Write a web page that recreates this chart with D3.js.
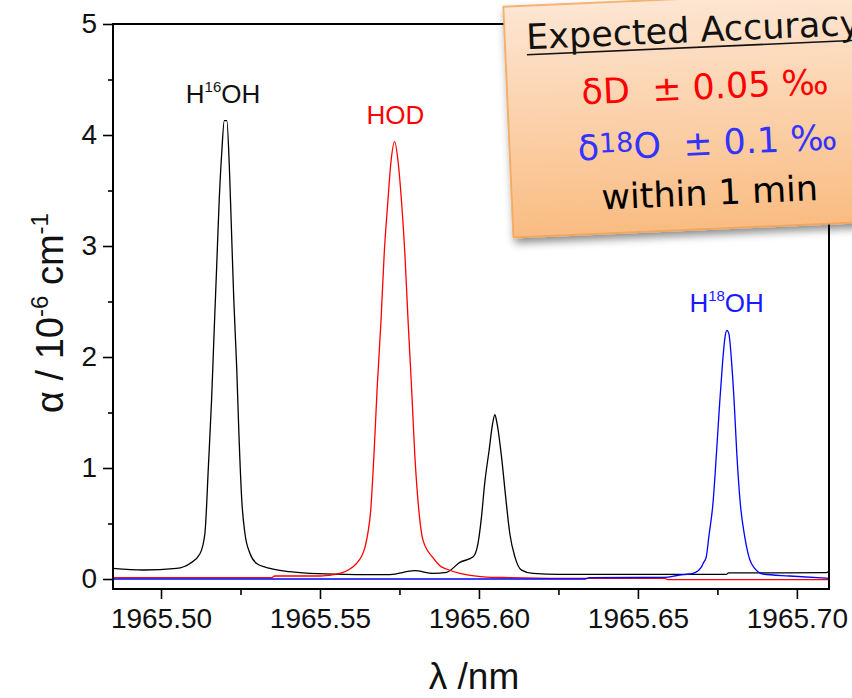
<!DOCTYPE html>
<html>
<head>
<meta charset="utf-8">
<script src="https://cdn.jsdelivr.net/npm/d3@7"></script>
<style>
body{margin:0;background:#fff;}
svg{display:block;}
</style>
</head>
<body>
<svg id="chart"></svg>
<script>
//total water spectrum (black) - wavelength in nm and absorption
var totalNm = [1965.4849, 1965.4944, 1965.5049, 1965.5091, 1965.5123, 1965.5138, 1965.5149, 1965.5159, 1965.5167, 1965.5175,
    1965.5183, 1965.5191, 1965.5199, 1965.5207, 1965.5215, 1965.5222, 1965.5229, 1965.5238, 1965.5245, 1965.5254,
    1965.5264, 1965.5280, 1965.5301, 1965.5343, 1965.5405, 1965.5468, 1965.5615, 1965.5720, 1965.5798, 1965.5856,
    1965.5898, 1965.5940, 1965.5982, 1965.5997, 1965.6008, 1965.6018, 1965.6032, 1965.6043, 1965.6050, 1965.6057,
    1965.6071, 1965.6084, 1965.6097, 1965.6113, 1965.6134, 1965.6170, 1965.6254, 1965.6380, 1965.6778, 1965.6785,
    1965.7092, 1965.7101];
var totalAlpha = [0.096, 0.081, 0.096, 0.14, 0.23, 0.41, 1.01, 1.61, 2.22, 2.81,
    3.41, 3.84, 4.13, 4.13, 3.71, 3.11, 2.51, 1.91, 1.31, 0.71,
    0.41, 0.23, 0.14, 0.096, 0.066, 0.05, 0.04, 0.04, 0.075, 0.05,
    0.06, 0.15, 0.2, 0.32, 0.56, 0.86, 1.16, 1.40, 1.48, 1.40,
    1.10, 0.74, 0.41, 0.2, 0.08, 0.05, 0.042, 0.042, 0.042, 0.055,
    0.057, 0.07];

//HOD (red)
var hodNm = [1965.4849, 1965.5348, 1965.5358, 1965.5500, 1965.5542, 1965.5573, 1965.5594, 1965.5615, 1965.5630, 1965.5641,
    1965.5651, 1965.5659, 1965.5670, 1965.5680, 1965.5692, 1965.5702, 1965.5713, 1965.5723, 1965.5735, 1965.5746,
    1965.5757, 1965.5767, 1965.5777, 1965.5788, 1965.5798, 1965.5809, 1965.5824, 1965.5856, 1965.5877, 1965.5898,
    1965.5940, 1965.6013, 1965.6097, 1965.6254, 1965.6584, 1965.6594, 1965.7101];
var hodAlpha = [0.012, 0.012, 0.027, 0.027, 0.04, 0.06, 0.09, 0.14, 0.2, 0.28,
    0.42, 0.6, 1.13, 1.73, 2.33, 2.93, 3.38, 3.75, 3.94, 3.75,
    3.38, 2.93, 2.33, 1.73, 1.13, 0.68, 0.35, 0.19, 0.12, 0.09,
    0.05, 0.02, 0.012, 0.005, 0.005, -0.005, -0.005];

//H18OH (blue)
var h18Nm = [1965.4849, 1965.6333, 1965.6348, 1965.6584, 1965.6631, 1965.6663, 1965.6673, 1965.6700, 1965.6705, 1965.6715,
    1965.6723, 1965.6736, 1965.6747, 1965.6757, 1965.6766, 1965.6774, 1965.6780, 1965.6786, 1965.6795, 1965.6803,
    1965.6811, 1965.6822, 1965.6836, 1965.6857, 1965.6893, 1965.6977, 1965.7101];
var h18Alpha = [0, 0, 0.012, 0.015, 0.036, 0.045, 0.05, 0.11, 0.14, 0.2,
    0.38, 0.68, 1.13, 1.58, 1.94, 2.18, 2.24, 2.21, 1.94, 1.58,
    1.13, 0.68, 0.38, 0.14, 0.045, 0.027, 0.006];

//axis ticks
var xTicks = [1965.50, 1965.55, 1965.60, 1965.65, 1965.70];
var xMinorTicks = [1965.525, 1965.575, 1965.625, 1965.675];
var yTicks = [0, 1, 2, 3, 4, 5];
var yMinorTicks = [0.5, 1.5, 2.5, 3.5, 4.5];

//peak labels (H, superscript, rest) placed over the peak tops
var peakMain = ["H", "HOD", "H"];
var peakSup = ["16", "", "18"];
var peakTail = ["OH", "", "OH"];
var peakNm = [1965.5195, 1965.5737, 1965.6779];
var peakTop = [4.13, 3.94, 2.24];
var peakColors = ["#111111", "#ff0000", "#1a1aff"];

//text lines of the accuracy note
var noteTitle = "Expected Accuracy";
var noteLines = ["\u03b4D  \u00b1 0.05 \u2030", "\u03b4|18|O  \u00b1 0.1 \u2030", "within 1 min"];
var noteColors = ["#ff0000", "#3333ff", "#000000"];

var font = "'Liberation Sans', Arial, sans-serif";

var drawLine = function(g, xs, ys, xScale, yScale, color)
{
    var pts = xs.map(function(x, i) { return [x, ys[i]]; });
    var line = d3.line()
        .x(function(d) { return xScale(d[0]); })
        .y(function(d) { return yScale(d[1]); })
        .curve(d3.curveMonotoneX);
    g.append("path")
        .datum(pts)
        .attr("d", line)
        .attr("fill", "none")
        .attr("stroke", color)
        .attr("stroke-width", 1.3)
        .attr("stroke-linejoin", "round");
}

var initGraph = function(target)
{
    var screen = {width:852, height:698};
    var margins = {top:24, bottom:109, left:113, right:23};
    var graph =
    {
        width:screen.width-margins.left-margins.right,
        height:screen.height-margins.top-margins.bottom
    };

    var svg = d3.select(target)
        .attr("width", screen.width)
        .attr("height", screen.height);

    var defs = svg.append("defs");
    defs.append("clipPath").attr("id", "plotclip")
        .append("rect")
        .attr("width", graph.width)
        .attr("height", graph.height);

    var xScale = d3.scaleLinear()
        .domain([1965.4849, 1965.7101])
        .range([0, graph.width]);
    var yScale = d3.scaleLinear()
        .domain([-0.09, 5])
        .range([graph.height, 0]);

    var g = svg.append("g")
        .attr("transform", "translate(" + margins.left + "," + margins.top + ")");

    //axes, major then minor ticks
    var xAxis = d3.axisBottom(xScale).tickValues(xTicks).tickSize(10).tickPadding(9)
        .tickFormat(d3.format(".2f"));
    var xMinor = d3.axisBottom(xScale).tickValues(xMinorTicks).tickSize(6).tickFormat("");
    var yAxis = d3.axisLeft(yScale).tickValues(yTicks).tickSize(10).tickPadding(6)
        .tickFormat(d3.format("d"));
    var yMinor = d3.axisLeft(yScale).tickValues(yMinorTicks).tickSize(5).tickFormat("");

    var axisStyle = function(a)
    {
        a.select(".domain").remove();
        a.selectAll("line").attr("stroke", "#000").attr("stroke-width", 1.6);
        a.selectAll("text").attr("font-family", font).attr("font-size", 28).attr("fill", "#111");
    }

    g.append("g").attr("transform", "translate(0," + graph.height + ")").call(xAxis).call(axisStyle);
    g.append("g").attr("transform", "translate(0," + graph.height + ")").call(xMinor).call(axisStyle);
    g.append("g").call(yAxis).call(axisStyle);
    g.append("g").call(yMinor).call(axisStyle);

    //spectra
    var lines = g.append("g").attr("clip-path", "url(#plotclip)");
    drawLine(lines, totalNm, totalAlpha, xScale, yScale, "#000000");
    drawLine(lines, hodNm, hodAlpha, xScale, yScale, "#ff0000");
    drawLine(lines, h18Nm, h18Alpha, xScale, yScale, "#0000ff");

    //frame
    g.append("rect")
        .attr("width", graph.width)
        .attr("height", graph.height)
        .attr("fill", "none")
        .attr("stroke", "#000")
        .attr("stroke-width", 2);

    //peak labels
    peakMain.forEach(function(m, i)
    {
        var t = g.append("text")
            .attr("x", xScale(peakNm[i]))
            .attr("y", yScale(peakTop[i]) - 18)
            .attr("text-anchor", "middle")
            .attr("font-family", font)
            .attr("font-size", 26)
            .attr("fill", peakColors[i]);
        t.append("tspan").text(m);
        if (peakSup[i] != "")
        {
            t.append("tspan").attr("font-size", 15).attr("dy", -11).text(peakSup[i]);
            t.append("tspan").attr("dy", 11).text(peakTail[i]);
        }
    });

    //axis titles
    svg.append("text")
        .attr("x", 474)
        .attr("y", 689)
        .attr("text-anchor", "middle")
        .attr("font-family", font)
        .attr("font-size", 37)
        .attr("fill", "#111")
        .style("white-space", "pre")
        .text("\u03bb /nm");

    var yt = svg.append("text")
        .attr("transform", "translate(63,313) rotate(-90)")
        .attr("text-anchor", "middle")
        .attr("font-family", font)
        .attr("font-size", 38)
        .attr("fill", "#111")
        .style("white-space", "pre");
    yt.append("tspan").text("\u03b1 / 10");
    yt.append("tspan").attr("font-size", 24).attr("dy", -15).text("-6");
    yt.append("tspan").attr("dy", 15).text(" cm");
    yt.append("tspan").attr("font-size", 24).attr("dy", -15).text("-1");

    drawNote(svg);
}

//the orange note in the top right corner, slightly tilted
var drawNote = function(svg)
{
    var defs = svg.select("defs");
    var grad = defs.append("linearGradient").attr("id", "notegrad")
        .attr("x1", 0).attr("y1", 0).attr("x2", 0).attr("y2", 1);
    grad.append("stop").attr("offset", "0%").attr("stop-color", "#fde6d3");
    grad.append("stop").attr("offset", "100%").attr("stop-color", "#f9bc82");

    var shadow = defs.append("filter").attr("id", "noteshadow")
        .attr("x", "-10%").attr("y", "-10%").attr("width", "130%").attr("height", "130%");
    shadow.append("feDropShadow")
        .attr("dx", 2).attr("dy", 5)
        .attr("stdDeviation", 4)
        .attr("flood-color", "#000")
        .attr("flood-opacity", 0.45);

    var note = svg.append("g")
        .attr("transform", "translate(503.3,6.7) rotate(-2.5)");

    note.append("rect")
        .attr("width", 430)
        .attr("height", 231)
        .attr("fill", "url(#notegrad)")
        .attr("stroke", "#f2a04e")
        .attr("stroke-width", 1.5)
        .attr("filter", "url(#noteshadow)");

    var noteFont = "'DejaVu Sans', Verdana, sans-serif";

    var title = note.append("text")
        .attr("x", 21.5)
        .attr("y", 43.6)
        .attr("font-family", noteFont)
        .attr("font-size", 35)
        .attr("fill", "#111")
        .text(noteTitle);
    var tl = title.node().getComputedTextLength();
    note.append("line")
        .attr("x1", 21.5).attr("x2", 21.5 + tl)
        .attr("y1", 49).attr("y2", 49)
        .attr("stroke", "#111")
        .attr("stroke-width", 1.6);

    var ys = [101, 157, 207];
    noteLines.forEach(function(s, i)
    {
        var t = note.append("text")
            .attr("x", 198)
            .attr("y", ys[i])
            .attr("text-anchor", "middle")
            .attr("font-family", noteFont)
            .attr("font-size", 35)
            .attr("fill", noteColors[i])
            .style("white-space", "pre");
        var parts = s.split("|");
        if (parts.length == 1)
        {
            t.text(s);
        }
        else
        {
            t.append("tspan").text(parts[0]);
            t.append("tspan").attr("font-size", 27).attr("dy", -7).text(parts[1]);
            t.append("tspan").attr("dy", 7).text(parts[2]);
        }
    });
}

initGraph("#chart");
</script>
</body>
</html>
